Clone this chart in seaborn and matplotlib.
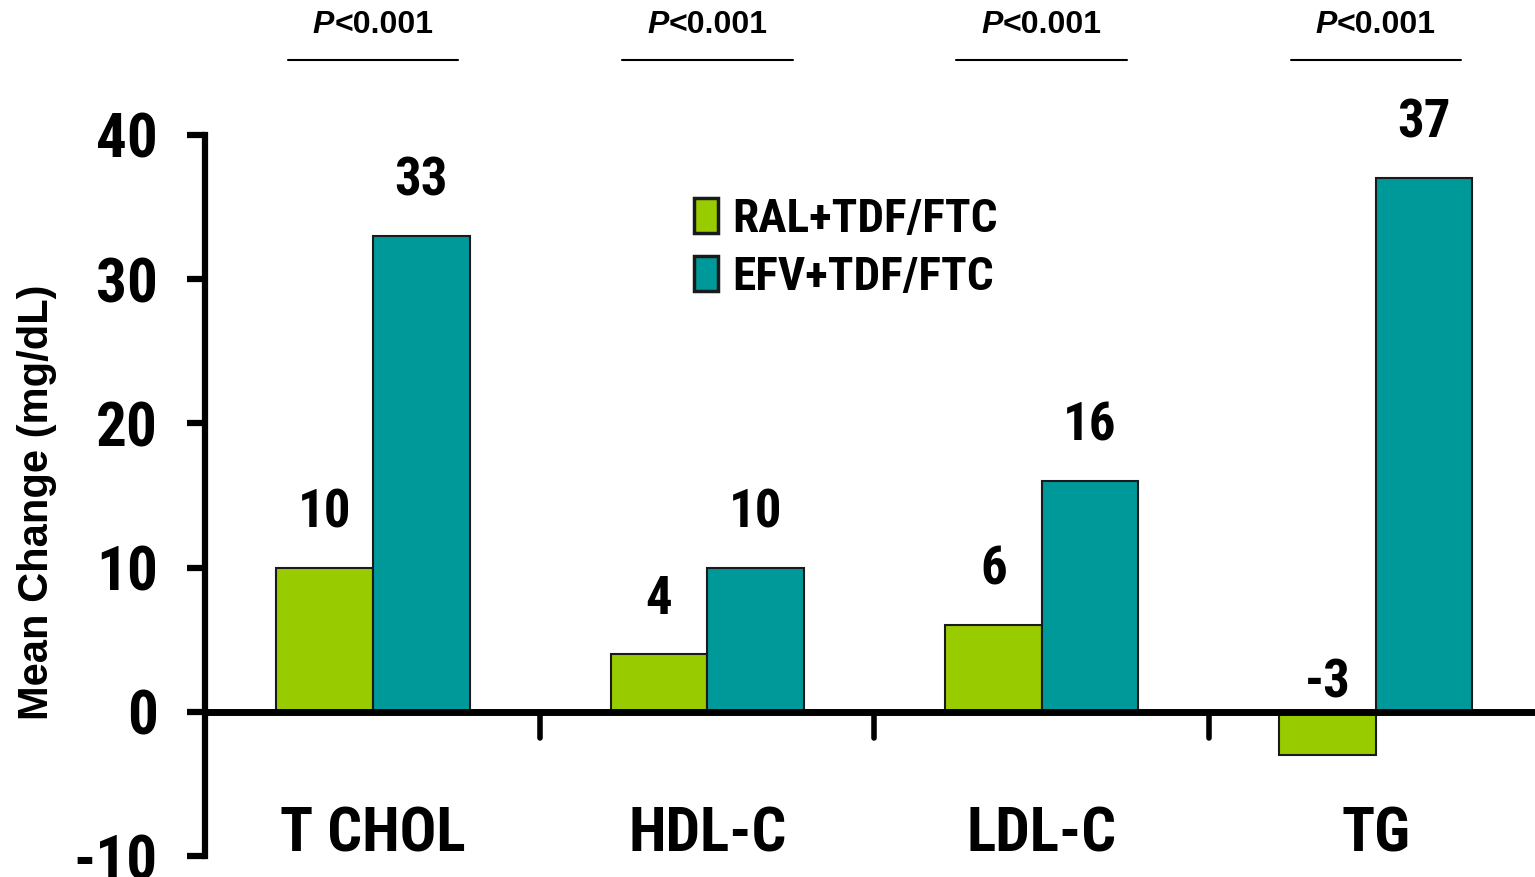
import matplotlib
matplotlib.use("Agg")
import matplotlib.pyplot as plt
from matplotlib.offsetbox import TextArea, HPacker, AnnotationBbox
import seaborn as sns
import pandas as pd

# Lipid endpoints and mean change from baseline (mg/dL)
categories = ["T CHOL", "HDL-C", "LDL-C", "TG"]
regimens = ["RAL+TDF/FTC", "EFV+TDF/FTC"]
ral_change = [10, 4, 6, -3]
efv_change = [33, 10, 16, 37]
p_labels = ["<0.001", "<0.001", "<0.001", "<0.001"]
y_ticks = [-10, 0, 10, 20, 30, 40]

GREEN = "#99CC00"
TEAL = "#009999"

sns.set_style("white")
plt.rcParams["font.family"] = ["Liberation Sans", "DejaVu Sans"]
plt.rcParams["font.weight"] = "bold"
plt.rcParams["axes.unicode_minus"] = False
plt.rcParams["text.color"] = "black"
plt.rcParams["axes.labelcolor"] = "black"
plt.rcParams["ytick.labelcolor"] = "black"

narrow = ["Roboto Condensed", "Liberation Sans", "DejaVu Sans"]
wide = ["Liberation Sans", "DejaVu Sans"]

df = pd.DataFrame({
    "category": categories * 2,
    "regimen": [regimens[0]] * len(categories) + [regimens[1]] * len(categories),
    "change": ral_change + efv_change,
})

fig = plt.figure(figsize=(15.35, 8.77), dpi=100)
ax = fig.add_axes([205 / 1535, 21 / 877, 1330 / 1535, 721 / 877])

sns.barplot(data=df, x="category", y="change", hue="regimen",
            hue_order=regimens, palette=[GREEN, TEAL], saturation=1,
            width=0.578, edgecolor="#1a1a1a", linewidth=1.5, ax=ax)

ax.set_xlim(-0.5025, len(categories) - 1 + 0.476)
ax.set_ylim(y_ticks[0], y_ticks[-1])

# Axis styling: only a heavy left spine plus a heavy zero line
for side in ["top", "right", "bottom"]:
    ax.spines[side].set_visible(False)
ax.spines["left"].set_linewidth(4.5)
ax.spines["left"].set_color("black")
ax.set_yticks(y_ticks)
ax.set_yticklabels([str(t) for t in y_ticks], fontfamily=narrow,
                   fontweight="bold", fontsize=44)
ax.tick_params(axis="y", length=13, width=4.5, pad=21, color="black",
               left=True)
ax.set_xticks([])
ax.set_xlabel("")

ax.axhline(0, color="black", lw=5, zorder=5)
for i in range(len(categories) - 1):
    b = i + 0.5
    ax.plot([b, b], [0, -1.8], color="black", lw=4,
            solid_capstyle="round", zorder=5)

# Category names beneath the zero line
for i, cat in enumerate(categories):
    ax.text(i, -9.7, cat, ha="center", va="baseline", fontsize=44,
            fontweight="bold", fontfamily=narrow)

# Value labels above each bar
for container, values in zip(ax.containers, [ral_change, efv_change]):
    for bar, v in zip(container, values):
        x = bar.get_x() + bar.get_width() / 2
        y = v + 2.8 if v >= 0 else 1.0
        ax.text(x, y, f"{v}", ha="center", va="baseline", fontsize=38,
                fontweight="bold", fontfamily=narrow)

# P-value annotations with underline
for i, p in enumerate(p_labels):
    parts = HPacker(children=[
        TextArea("P", textprops=dict(fontsize=23, fontweight="bold",
                                     fontstyle="italic", fontfamily=wide)),
        TextArea(p, textprops=dict(fontsize=23, fontweight="bold",
                                   fontfamily=wide)),
    ], align="baseline", pad=0, sep=0)
    ab = AnnotationBbox(parts, (i, 47.6), xycoords="data", frameon=False,
                        box_alignment=(0.5, 0.5), annotation_clip=False)
    ax.add_artist(ab)
    ax.plot([i - 0.255, i + 0.255], [45.2, 45.2], color="black", lw=1.5,
            clip_on=False)

ax.set_ylabel("Mean Change (mg/dL)", fontsize=30, fontweight="bold",
              fontfamily=wide)
ax.yaxis.set_label_coords(-0.111, 0.49)

handles, labels = ax.get_legend_handles_labels()
leg = ax.legend(handles, labels, loc="upper left",
                bbox_to_anchor=(694 / 1535, 1 - 197 / 877),
                bbox_transform=fig.transFigure, frameon=False,
                prop=dict(family=narrow, weight="bold", size=34),
                handlelength=0.5, handleheight=0.75, handletextpad=0.32,
                labelspacing=0.3, borderpad=0, borderaxespad=0)
for h in leg.legend_handles:
    h.set_linewidth(2.5)
    h.set_edgecolor("#1a1a1a")

fig.savefig("out.png", dpi=100)
